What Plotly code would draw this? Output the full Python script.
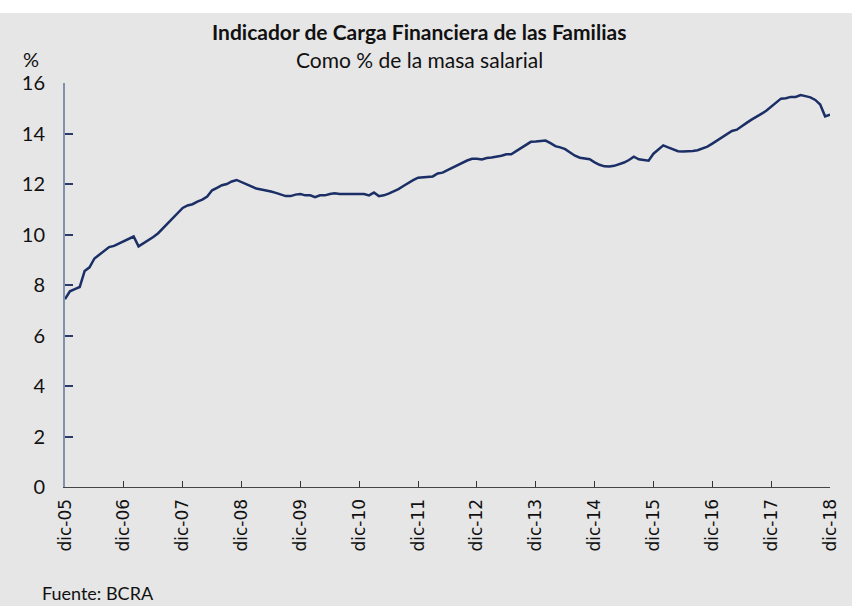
import plotly.graph_objects as go

# Monthly values, dic-05 .. dic-18 (% of wage bill)
carga = [
    7.44, 7.75, 7.84, 7.92, 8.55, 8.70, 9.05, 9.20, 9.32, 9.50, 9.55, 9.65,
    9.75, 9.85, 9.92, 9.53, 9.65, 9.80, 9.90, 10.05, 10.25, 10.45, 10.65, 10.85,
    11.05, 11.15, 11.20, 11.30, 11.38, 11.50, 11.75, 11.85, 11.95, 12.00, 12.10, 12.16,
    12.08, 12.00, 11.90, 11.82, 11.78, 11.75, 11.70, 11.65, 11.58, 11.52, 11.52, 11.58,
    11.60, 11.55, 11.55, 11.48, 11.55, 11.55, 11.60, 11.63, 11.60, 11.60, 11.60, 11.60,
    11.60, 11.60, 11.55, 11.66, 11.52, 11.55, 11.62, 11.70, 11.80, 11.92, 12.05, 12.15,
    12.25, 12.27, 12.28, 12.30, 12.42, 12.45, 12.55, 12.65, 12.75, 12.85, 12.93, 13.00,
    13.00, 12.97, 13.03, 13.05, 13.08, 13.12, 13.18, 13.18, 13.30, 13.42, 13.52, 13.67,
    13.68, 13.69, 13.72, 13.62, 13.50, 13.45, 13.38, 13.25, 13.12, 13.04, 13.02, 12.98,
    12.86, 12.76, 12.70, 12.69, 12.72, 12.78, 12.85, 12.95, 13.08, 12.98, 12.95, 12.92,
    13.20, 13.38, 13.53, 13.45, 13.38, 13.30, 13.29, 13.29, 13.31, 13.34, 13.42, 13.48,
    13.60, 13.72, 13.85, 13.97, 14.10, 14.15, 14.30, 14.42, 14.55, 14.65, 14.78, 14.90,
    15.05, 15.20, 15.38, 15.40, 15.45, 15.45, 15.52, 15.48, 15.43, 15.33, 15.15, 14.68,
    14.75,
]
meses = list(range(len(carga)))
tick_pos = list(range(0, 157, 12))
tick_txt = ["dic-05", "dic-06", "dic-07", "dic-08", "dic-09", "dic-10", "dic-11",
            "dic-12", "dic-13", "dic-14", "dic-15", "dic-16", "dic-17", "dic-18"]
y_ticks = [0, 2, 4, 6, 8, 10, 12, 14, 16]

BG = "#e6e6e6"
NAVY = "#1b2f66"
FONT = "Lato"

fig = go.Figure()
fig.add_trace(go.Scatter(x=meses, y=carga, mode="lines",
                         line=dict(color=NAVY, width=2.5), hoverinfo="skip"))

fig.update_layout(
    width=852, height=606,
    margin=dict(l=65, r=22, t=83, b=119),
    paper_bgcolor=BG, plot_bgcolor=BG,
    showlegend=False,
    font=dict(family=FONT, color="#111111"),
    xaxis=dict(range=[0, 156], tickvals=tick_pos, ticktext=tick_txt,
               tickangle=-90, ticks="inside", ticklen=6, tickcolor="#333333",
               showline=True, linecolor="#444444", linewidth=1.2,
               showgrid=False, zeroline=False,
               tickfont=dict(family="DejaVu Sans", size=17, color="#111111"),
               ticklabelstandoff=4),
    yaxis=dict(range=[0, 16], tickvals=y_ticks, ticks="inside", ticklen=8,
               tickcolor="#2b3a6b", tickwidth=1.5,
               showline=True, linecolor="#8090ad", linewidth=2,
               showgrid=False, zeroline=False,
               tickfont=dict(family=FONT, size=20, color="#111111"),
               ticklabelstandoff=14),
)

# white strip at the very top
fig.add_shape(type="rect", xref="paper", yref="paper",
              x0=-0.1, x1=1.1, y0=(487 - 13) / 404, y1=1.25,
              fillcolor="white", line=dict(width=0), layer="below")

fig.add_annotation(text="<b>Indicador de Carga Financiera de las Familias</b>",
                   xref="paper", yref="paper", x=(419 - 65) / 765, y=(487 - 31) / 404,
                   showarrow=False, font=dict(family=FONT, size=21, color="#111111"),
                   xanchor="center", yanchor="middle")
fig.add_annotation(text="Como % de la masa salarial",
                   xref="paper", yref="paper", x=(419 - 65) / 765, y=(487 - 60) / 404,
                   showarrow=False, font=dict(family=FONT, size=21, color="#111111"),
                   xanchor="center", yanchor="middle")
fig.add_annotation(text="%", xref="paper", yref="paper",
                   x=(31 - 65) / 765, y=(487 - 59) / 404,
                   showarrow=False, font=dict(family=FONT, size=20, color="#111111"),
                   xanchor="center", yanchor="middle")
fig.add_annotation(text="Fuente: BCRA", xref="paper", yref="paper",
                   x=(40 - 65) / 765, y=(487 - 593) / 404,
                   showarrow=False, font=dict(family=FONT, size=18, color="#111111"),
                   xanchor="left", yanchor="middle")

fig.write_html("out.html")
